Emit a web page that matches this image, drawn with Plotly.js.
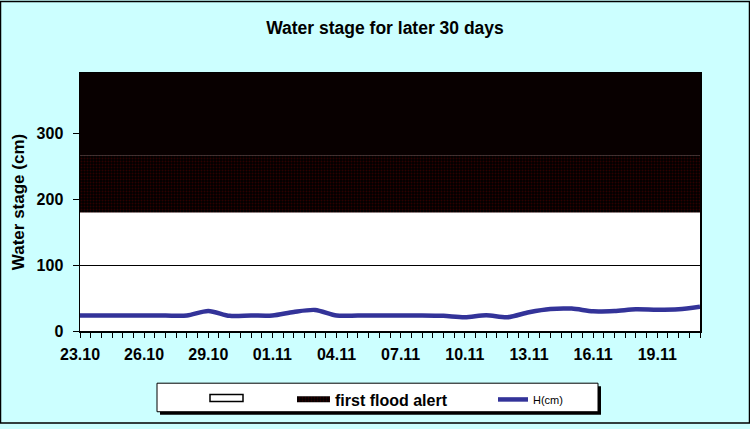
<!DOCTYPE html>
<html>
<head>
<meta charset="utf-8">
<script src="https://cdn.plot.ly/plotly-3.0.1.min.js"></script>
<style>html,body{margin:0;padding:0;background:#ccffff;}#chart{width:750px;height:429px;}</style>
</head>
<body>
<div id="chart"></div>
<script>
// Day labels (x categories)
const dayLabels = ["23.10","24.10","25.10","26.10","27.10","28.10","29.10","30.10","31.10","01.11",
                   "02.11","03.11","04.11","05.11","06.11","07.11","08.11","09.11","10.11","11.11",
                   "12.11","13.11","14.11","15.11","16.11","17.11","18.11","19.11","20.11","21.11"];
// Water stage H (cm)
const waterStage = [23.4,23.4,23.4,23.4,23.4,23.5,30.5,23,23.5,23.5,
                    29,32,23.5,23.5,23.5,23.5,23.5,23,21,24,
                    21,28.5,33.5,34,30,30.5,33,32.3,33,37];
// Stacked band heights (cm)
const normalBand = dayLabels.map(() => 180);      // white zone 0-180
const firstAlertBand = dayLabels.map(() => 87);   // 180-267
const upperBand = dayLabels.map(() => 125);       // 267-392
const yTickVals = [0,100,200,300];
const yTickText = ["0","100","200","300"];
const xLabelEvery = 3;

const xIdx = dayLabels.map((_, i) => i);
const xTickVals = xIdx.filter(i => i % xLabelEvery === 0);
const xTickText = xTickVals.map(i => dayLabels[i]);

const FONT = "Liberation Sans, Arial, sans-serif";

const traces = [
  {x: xIdx, y: normalBand, type: 'scatter', mode: 'none', stackgroup: 'bands',
   name: '', fillcolor: 'rgba(255,255,255,0)',
   legend: 'legend', hoverinfo: 'skip'},
  {x: xIdx, y: firstAlertBand, type: 'scatter', mode: 'none', stackgroup: 'bands',
   name: 'first flood alert', fillcolor: '#0e0000',
   fillpattern: {shape: '.', bgcolor: '#000000', fgcolor: '#2c0000', size: 3, solidity: 0.35},
   legend: 'legend2', hoverinfo: 'skip'},
  {x: xIdx, y: upperBand, type: 'scatter', mode: 'none', stackgroup: 'bands',
   name: 'upper', fillcolor: '#080000', showlegend: false, hoverinfo: 'skip'},
  {x: xIdx, y: waterStage, type: 'scatter', mode: 'lines', name: 'H(cm)',
   line: {color: '#333399', width: 4.5, shape: 'spline', smoothing: 0.8},
   legend: 'legend3'}
];

const pw = 620, ph = 262, ml = 80, mt = 73;
const px = v => (v - ml) / pw;
const py = v => (mt + ph - v) / ph;

const legendBase = {orientation: 'h', bgcolor: 'rgba(0,0,0,0)', borderwidth: 0,
  yanchor: 'middle', xanchor: 'left', y: py(404.5), itemwidth: 33,
  font: {family: FONT, size: 16, color: 'black', weight: 'bold'}};

const layout = {
  width: 750, height: 429,
  margin: {l: ml, r: 50, t: mt, b: 94},
  paper_bgcolor: '#ccffff',
  plot_bgcolor: 'white',
  font: {family: FONT, color: 'black'},
  title: {text: 'Water stage for later 30 days', font: {family: FONT, size: 17.5, weight: 'bold', color: 'black'},
          xref: 'container', x: 385/750, xanchor: 'center', yref: 'container', y: 1 - 28/429, yanchor: 'middle'},
  xaxis: {range: [0, 29], tickmode: 'array', tickvals: xTickVals, ticktext: xTickText,
          ticks: 'outside', ticklen: 5, tickcolor: 'black', tickwidth: 1,
          minor: {tickmode: 'linear', tick0: 0, dtick: 0.5, ticks: 'outside', ticklen: 5, tickcolor: 'black', showgrid: false},
          showline: true, linecolor: 'black', linewidth: 1.5, mirror: true,
          showgrid: false, zeroline: false, automargin: false,
          tickfont: {family: FONT, size: 16, weight: 'bold', color: 'black'}, ticklabelstandoff: 3},
  yaxis: {range: [0, 392], tickmode: 'array', tickvals: yTickVals, ticktext: yTickText,
          ticks: 'outside', ticklen: 6, tickcolor: 'black',
          showline: true, linecolor: 'black', linewidth: 1.5, mirror: true,
          showgrid: true, gridcolor: 'black', gridwidth: 1, zeroline: false, automargin: false,
          tickfont: {family: FONT, size: 16, weight: 'bold', color: 'black'}, ticklabelstandoff: 6,
          title: {text: 'Water stage (cm)', font: {family: FONT, size: 17, weight: 'bold', color: 'black'}, standoff: 7}},
  legend: Object.assign({}, legendBase, {x: px(205)}),
  legend2: Object.assign({}, legendBase, {x: px(292)}),
  legend3: Object.assign({}, legendBase, {x: px(493), itemwidth: 30, font: {family: FONT, size: 11, color: 'black'}}),
  shapes: [
    {type: 'rect', xref: 'paper', yref: 'paper', x0: px(160), x1: px(601), y0: py(420), y1: py(391),
     fillcolor: 'black', line: {width: 0}, layer: 'below'},
    {type: 'rect', xref: 'paper', yref: 'paper', x0: px(157), x1: px(598), y0: py(417), y1: py(388),
     fillcolor: 'white', line: {color: 'black', width: 1}, layer: 'below'},
    {type: 'rect', xref: 'paper', yref: 'paper', x0: px(210), x1: px(243), y0: py(406.5), y1: py(399.5),
     fillcolor: 'white', line: {color: 'black', width: 1.5}, layer: 'below'},
    {type: 'rect', xref: 'paper', yref: 'paper', x0: px(0.5), x1: px(749.5), y0: py(428.5), y1: py(0.5),
     fillcolor: 'rgba(0,0,0,0)', line: {color: 'black', width: 1.5}, layer: 'above'}
  ],
  showlegend: true,
  hovermode: false
};

Plotly.newPlot('chart', traces, layout, {staticPlot: true});
</script>
</body>
</html>
